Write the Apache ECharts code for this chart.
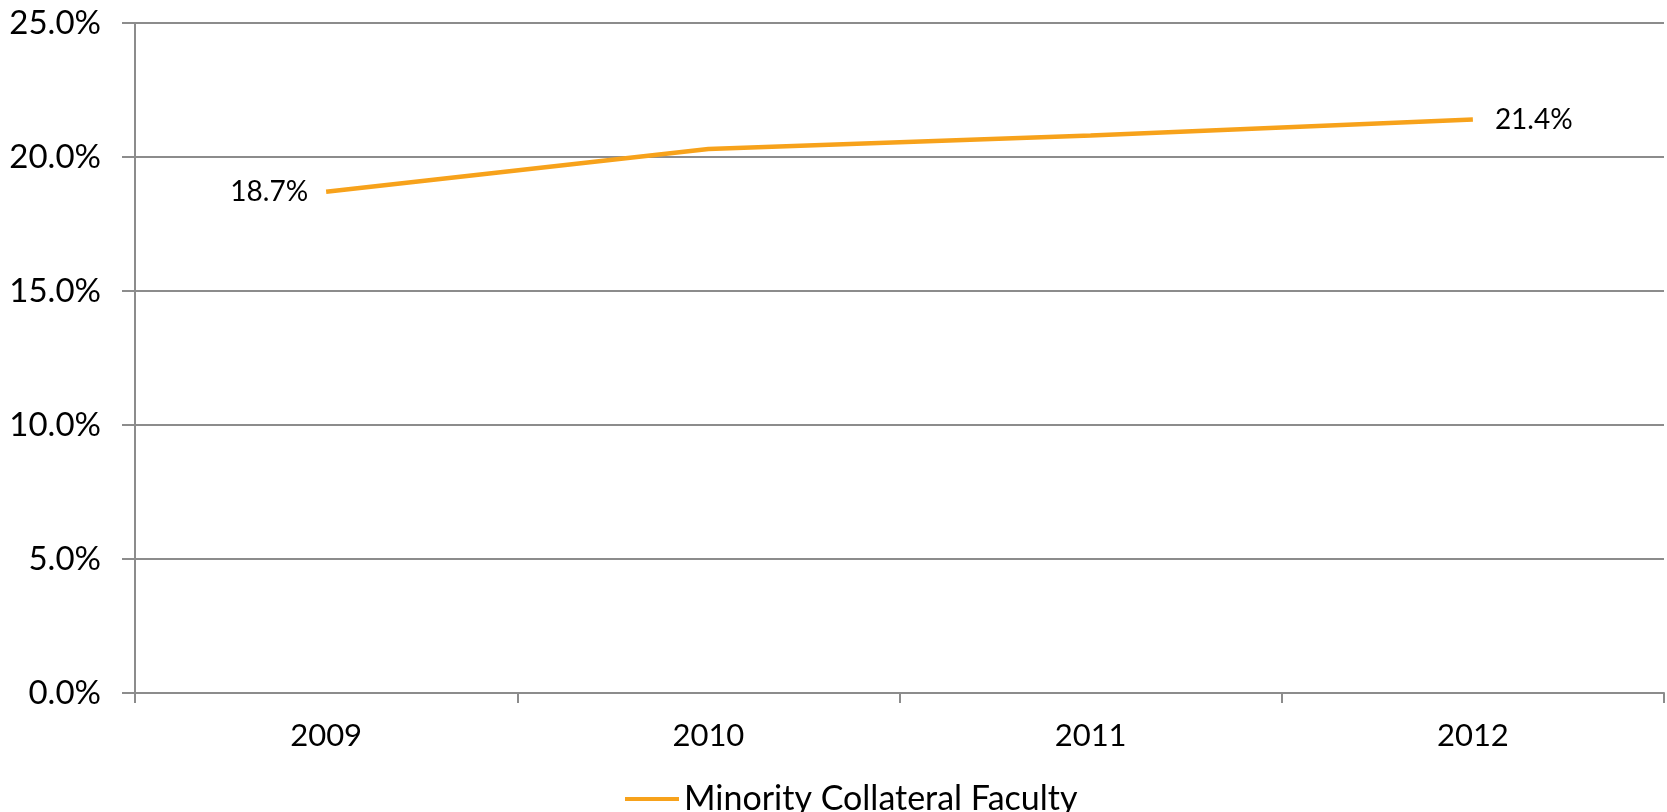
<!DOCTYPE html>
<html>
<head>
<meta charset="utf-8">
<script src="https://cdn.jsdelivr.net/npm/echarts@6/dist/echarts.min.js"></script>
<style>
  html, body { margin: 0; padding: 0; background: #fff; }
  #main { width: 1667px; height: 812px; }
</style>
</head>
<body>
<div id="main"></div>
<script>
var years = ["2009", "2010", "2011", "2012"];
var minorityCollateral = [18.7, 20.3, 20.8, 21.4];
var seriesName = "Minority Collateral Faculty";

var chart = echarts.init(document.getElementById("main"));
var fontFamily = "Lato, 'Open Sans', sans-serif";

// only first and last points carry a label
var lineData = minorityCollateral.map(function (v, i) {
  var item = { value: v };
  if (i === 0) {
    item.label = { show: true, position: "left", distance: 18 };
  } else if (i === minorityCollateral.length - 1) {
    item.label = { show: true, position: "right", distance: 22 };
  }
  return item;
});

var option = {
  animation: false,
  grid: { left: 135, right: 3, top: 23, bottom: 119 },
  legend: {
    top: 777,
    left: 620,
    data: [seriesName],
    icon: "rect",
    itemWidth: 54,
    itemHeight: 4,
    itemGap: 4,
    textStyle: { fontFamily: fontFamily, fontSize: 34, color: "#000" }
  },
  xAxis: {
    type: "category",
    data: years,
    boundaryGap: true,
    axisLine: { lineStyle: { color: "#8c8c8c", width: 2 } },
    axisTick: { show: true, length: 10, lineStyle: { color: "#8c8c8c", width: 2 } },
    axisLabel: { fontFamily: fontFamily, fontSize: 31, color: "#000", margin: 27 }
  },
  yAxis: {
    type: "value",
    min: 0,
    max: 25,
    interval: 5,
    axisLine: { show: true, lineStyle: { color: "#8c8c8c", width: 2 } },
    axisTick: { show: true, length: 13, lineStyle: { color: "#8c8c8c", width: 2 } },
    splitLine: { lineStyle: { color: "#8c8c8c", width: 2 } },
    axisLabel: {
      fontFamily: fontFamily,
      fontSize: 33,
      color: "#000",
      margin: 34,
      formatter: function (v) { return v.toFixed(1) + "%"; }
    }
  },
  series: [
    {
      name: seriesName,
      type: "line",
      data: lineData,
      symbol: "circle",
      symbolSize: 0,
      showSymbol: true,
      lineStyle: { color: "#f7a21b", width: 4.5 },
      itemStyle: { color: "#f7a21b" },
      label: {
        show: false,
        fontFamily: fontFamily,
        fontSize: 28,
        color: "#000",
        formatter: function (p) { return p.value.toFixed(1) + "%"; }
      }
    }
  ]
};

chart.setOption(option);
</script>
</body>
</html>
